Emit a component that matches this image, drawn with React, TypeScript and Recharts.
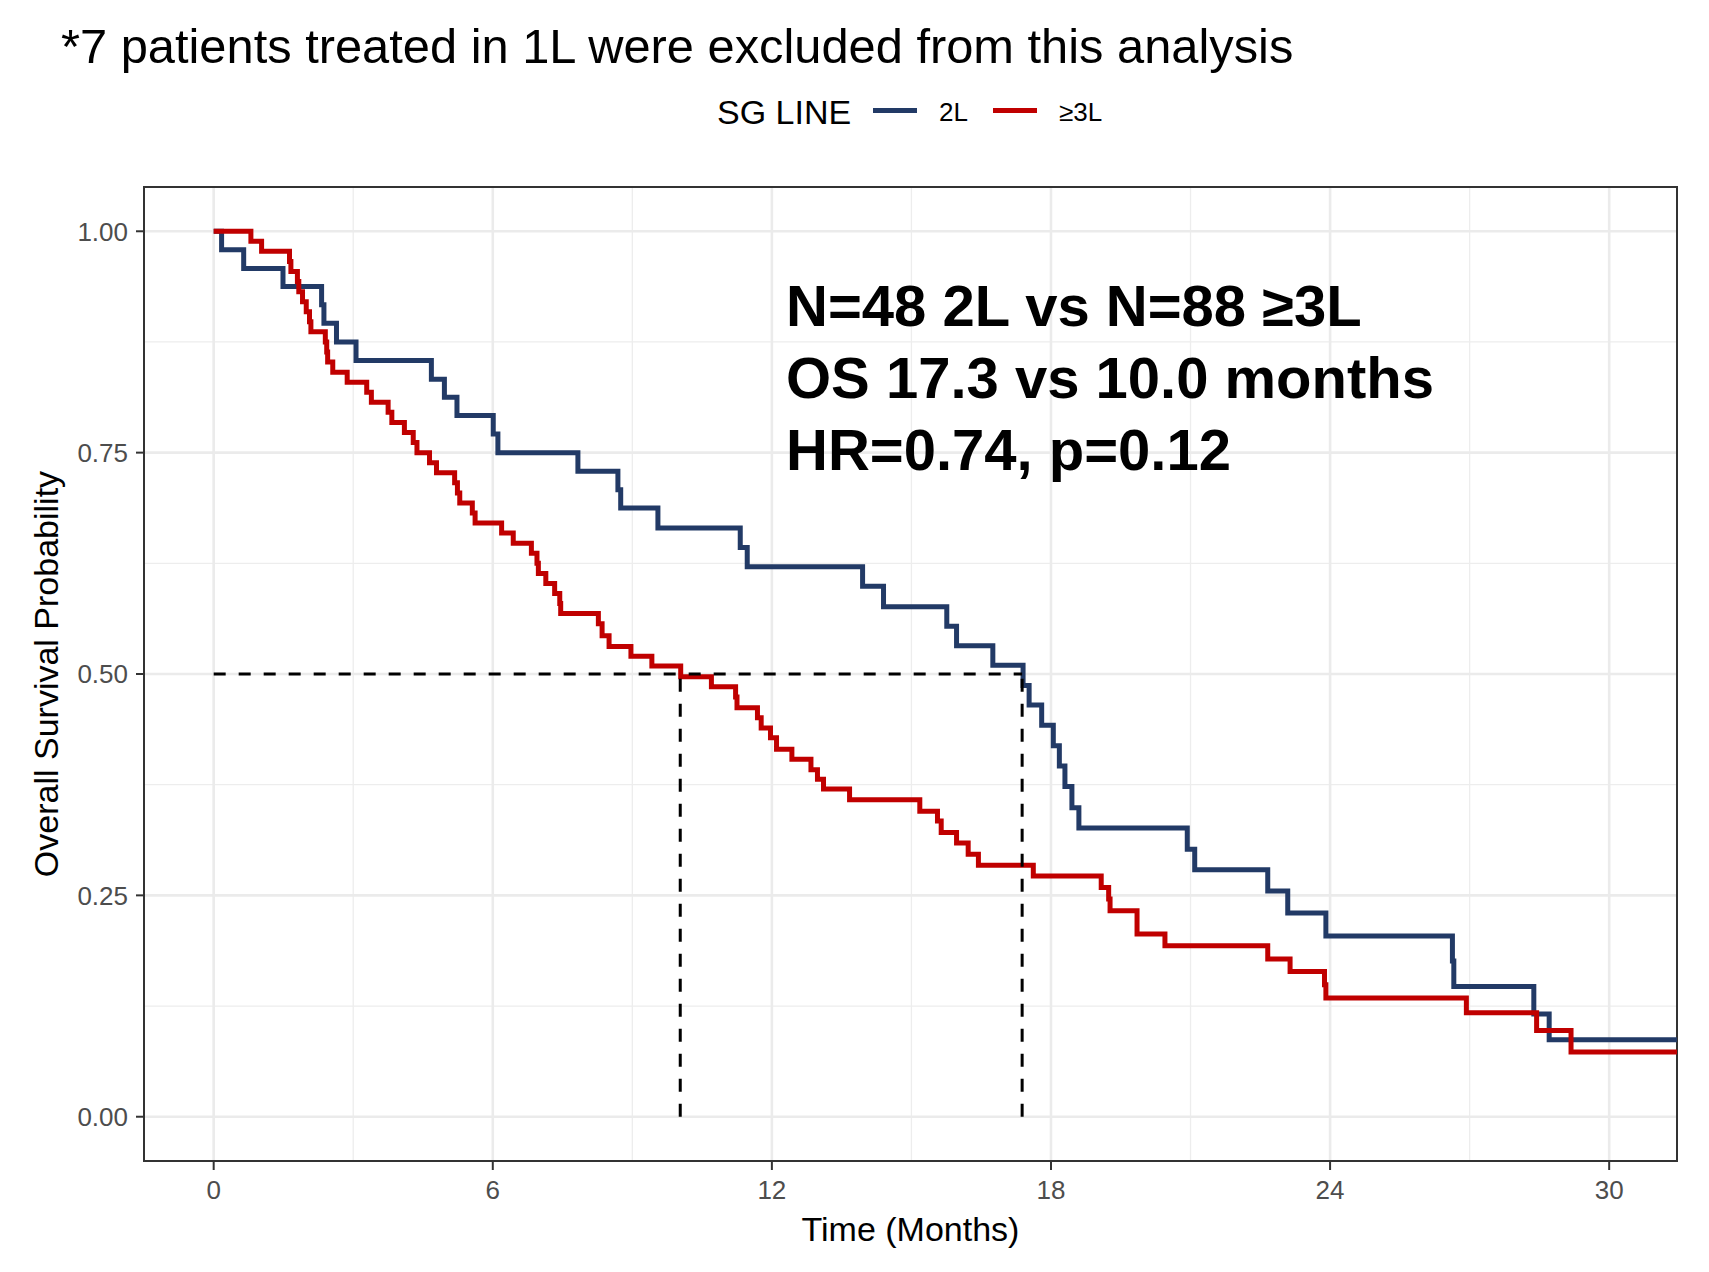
import React from "react";
import { LineChart, Line, XAxis, YAxis, CartesianGrid, ReferenceLine, ReferenceArea } from "recharts";

// ── Data ──────────────────────────────────────────────────

// 2L arm (N=48): Kaplan-Meier steps
const twoLTimes = [
  0, 0.17, 0.645, 1.49, 2.32, 2.37, 2.64, 3.06, 4.68, 4.96, 5.23, 6.01, 6.11, 7.83, 8.69, 8.75,
  9.55, 11.32, 11.47, 13.95, 14.4, 15.76, 15.97, 16.75, 17.4, 17.53, 17.8, 18.05, 18.18, 18.3,
  18.45, 18.6, 20.93, 21.09, 22.66, 23.09, 23.91, 26.63, 26.66, 28.38, 28.71, 31.46,
];
const twoLSurv = [
  1, 0.979, 0.958, 0.9375, 0.917, 0.896, 0.875, 0.854, 0.833, 0.8125, 0.792, 0.771, 0.75, 0.729,
  0.708, 0.6875, 0.665, 0.643, 0.621, 0.599, 0.576, 0.554, 0.532, 0.51, 0.487, 0.465, 0.442, 0.419,
  0.396, 0.373, 0.349, 0.326, 0.302, 0.279, 0.255, 0.23, 0.204, 0.176, 0.147, 0.116, 0.087, 0.087,
];

// ≥3L arm (N=88)
const threeLTimes = [
  0, 0.8, 1.03, 1.63, 1.66, 1.8, 1.83, 1.91, 1.99, 2.06, 2.09, 2.4, 2.43, 2.45, 2.56, 2.87, 3.29,
  3.39, 3.75, 3.83, 4.1, 4.29, 4.37, 4.64, 4.79, 5.18, 5.24, 5.29, 5.56, 5.62, 6.19, 6.44, 6.83,
  6.95, 6.98, 7.14, 7.33, 7.44, 7.46, 8.27, 8.35, 8.5, 8.97, 9.42, 10.04, 10.7, 11.22, 11.25,
  11.69, 11.77, 11.97, 12.1, 12.43, 12.84, 12.98, 13.11, 13.67, 15.18, 15.56, 15.64, 15.97, 16.22,
  16.44, 17.62, 19.08, 19.24, 19.27, 19.85, 20.45, 22.66, 23.14, 23.88, 23.91, 26.93, 28.44, 29.18,
  31.46,
];
const threeLSurv = [
  1, 0.9886, 0.9773, 0.9659, 0.9545, 0.9432, 0.9318, 0.9205, 0.9091, 0.8977, 0.8864, 0.875,
  0.8636, 0.8523, 0.8409, 0.8295, 0.8182, 0.8068, 0.7955, 0.7841, 0.7727, 0.7614, 0.75, 0.7386,
  0.7273, 0.7159, 0.7045, 0.6932, 0.6818, 0.6705, 0.6591, 0.6477, 0.6364, 0.625, 0.6136, 0.6023,
  0.5909, 0.5795, 0.5682, 0.5568, 0.5432, 0.531, 0.52, 0.509, 0.497, 0.4855, 0.474, 0.462, 0.4506,
  0.439, 0.428, 0.415, 0.4036, 0.392, 0.381, 0.37, 0.358, 0.345, 0.334, 0.321, 0.309, 0.2965, 0.284,
  0.272, 0.259, 0.246, 0.2326, 0.2063, 0.193, 0.178, 0.164, 0.149, 0.134, 0.1173, 0.0973, 0.073,
  0.073,
];

const xTicks = [0, 6, 12, 18, 24, 30];
const xMinor = [3, 9, 15, 21, 27];
const yTicks = [0, 0.25, 0.5, 0.75, 1];
const yMinor = [0.125, 0.375, 0.625, 0.875];

const medianTimes = [10.03, 17.38];
const medianSurv = 0.5;

const seriesNames = ["2L", "≥3L"];
const seriesColors = ["#223A66", "#C00000"];
const annotationLines = ["N=48 2L vs N=88 ≥3L", "OS 17.3 vs 10.0 months", "HR=0.74, p=0.12"];

const X_DOMAIN: [number, number] = [-1.498, 31.458];
const Y_DOMAIN: [number, number] = [-0.05, 1.05];

// ── Helpers ───────────────────────────────────────────────

const buildSteps = (times: number[], surv: number[]) =>
  times.map((t, i) => ({ time: t, surv: surv[i] }));

const twoLData = buildSteps(twoLTimes, twoLSurv);
const threeLData = buildSteps(threeLTimes, threeLSurv);

const FONT = '"Liberation Sans", Arial, Helvetica, sans-serif';

const styles: Record<string, React.CSSProperties> = {
  page: { position: "absolute", left: 0, top: 0, width: 1709, height: 1272, background: "#fff", fontFamily: FONT },
  subtitle: { position: "absolute", left: 61, top: 22, fontSize: 48.8, lineHeight: "48px", color: "#000", whiteSpace: "nowrap" },
  legendTitle: { position: "absolute", left: 717, top: 95, fontSize: 34, lineHeight: "34px", color: "#000", whiteSpace: "nowrap" },
  legendLabel: { position: "absolute", top: 99, fontSize: 26, lineHeight: "26px", color: "#000", whiteSpace: "nowrap" },
  annotation: { position: "absolute", left: 786, top: 270, fontSize: 58, lineHeight: "72px", fontWeight: 700, color: "#000", whiteSpace: "nowrap" },
  yTitle: {
    position: "absolute",
    left: 46 - 300,
    top: 674 - 17,
    width: 600,
    height: 34,
    fontSize: 34,
    lineHeight: "34px",
    textAlign: "center",
    color: "#000",
    whiteSpace: "nowrap",
    transform: "rotate(-90deg)",
    transformOrigin: "50% 50%",
  },
};

const tickStyle = { fontSize: 26, fill: "#4D4D4D", fontFamily: FONT };

// ── Component ─────────────────────────────────────────────

export default function App() {
  const seriesData = [twoLData, threeLData];
  const keyLeft = [873, 993];
  const labelLeft = [939, 1059];

  return (
    <div style={styles.page}>
      <div style={styles.subtitle}>*7 patients treated in 1L were excluded from this analysis</div>

      {/* legend */}
      <div style={styles.legendTitle}>SG LINE</div>
      {seriesNames.map((name, i) => (
        <React.Fragment key={name}>
          <div
            style={{ position: "absolute", left: keyLeft[i], top: 108, width: 44, height: 5, background: seriesColors[i] }}
          />
          <div style={{ ...styles.legendLabel, left: labelLeft[i] }}>{name}</div>
        </React.Fragment>
      ))}

      <LineChart width={1709} height={1272} margin={{ top: 187, right: 32, bottom: 51, left: 44 }}>
        <CartesianGrid verticalValues={xMinor} horizontalValues={yMinor} stroke="#EDEDED" strokeWidth={1.3} />
        <CartesianGrid verticalValues={xTicks} horizontalValues={yTicks} stroke="#EBEBEB" strokeWidth={2.6} />
        <XAxis
          dataKey="time"
          type="number"
          domain={X_DOMAIN}
          allowDataOverflow
          ticks={xTicks}
          height={60}
          axisLine={false}
          tickLine={{ stroke: "#333333", strokeWidth: 2 }}
          tickSize={9}
          tickMargin={11}
          tick={tickStyle}
          label={{
            value: "Time (Months)",
            position: "insideBottom",
            offset: -20,
            style: { fontSize: 34, fill: "#000", fontFamily: FONT },
          }}
        />
        <YAxis
          type="number"
          domain={Y_DOMAIN}
          allowDataOverflow
          ticks={yTicks}
          width={100}
          axisLine={false}
          tickLine={{ stroke: "#333333", strokeWidth: 2 }}
          tickSize={8}
          tickMargin={8}
          tick={tickStyle}
          tickFormatter={(v: number) => v.toFixed(2)}
        />
        {seriesNames.map((name, i) => (
          <Line
            key={name}
            data={seriesData[i]}
            dataKey="surv"
            name={name}
            type="stepAfter"
            stroke={seriesColors[i]}
            strokeWidth={5}
            dot={false}
            activeDot={false}
            isAnimationActive={false}
          />
        ))}
        <ReferenceLine
          segment={[
            { x: 0, y: medianSurv },
            { x: medianTimes[1], y: medianSurv },
          ]}
          stroke="#000"
          strokeWidth={3}
          strokeDasharray="12 13"
        />
        {medianTimes.map((t) => (
          <ReferenceLine
            key={t}
            segment={[
              { x: t, y: 0 },
              { x: t, y: medianSurv },
            ]}
            stroke="#000"
            strokeWidth={3}
            strokeDasharray="13 12"
          />
        ))}
        <ReferenceArea
          x1={X_DOMAIN[0]}
          x2={X_DOMAIN[1]}
          y1={Y_DOMAIN[0]}
          y2={Y_DOMAIN[1]}
          fill="none"
          fillOpacity={0}
          stroke="#333333"
          strokeWidth={2}
          ifOverflow="visible"
        />
      </LineChart>

      <div style={styles.yTitle}>Overall Survival Probability</div>

      <div style={styles.annotation}>
        {annotationLines.map((line) => (
          <div key={line}>{line}</div>
        ))}
      </div>
    </div>
  );
}
